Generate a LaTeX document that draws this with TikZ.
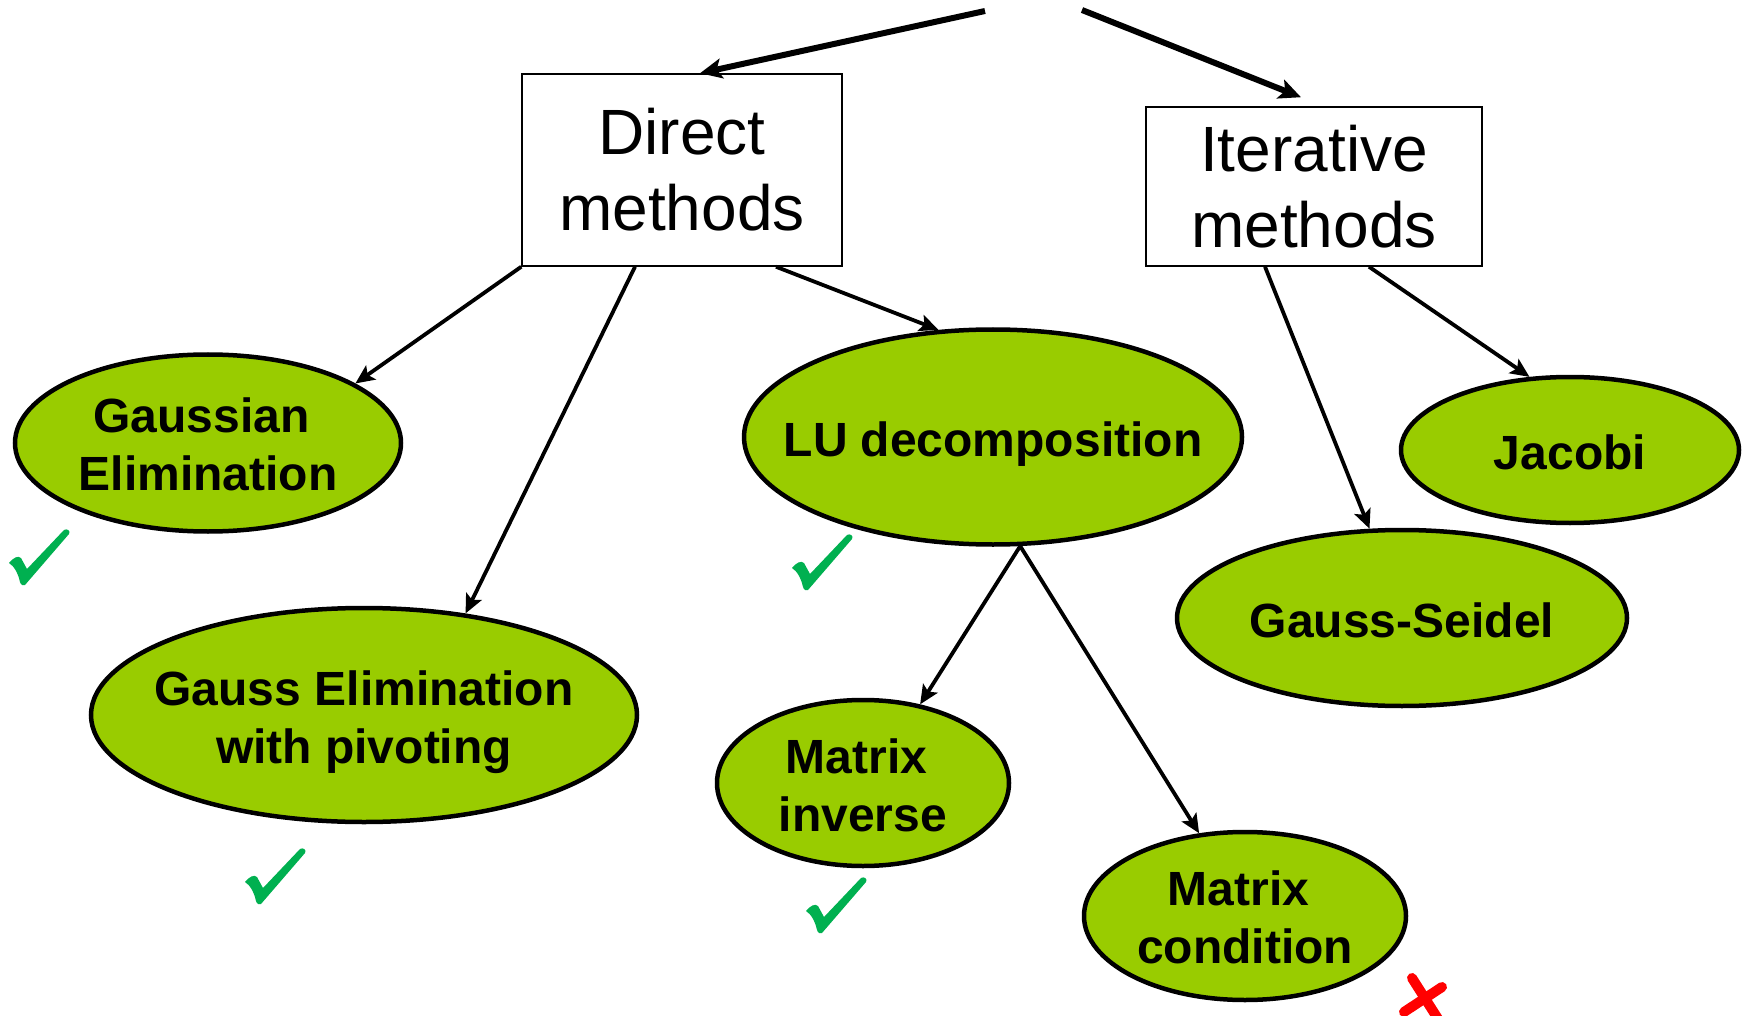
\documentclass[tikz,border=0pt]{standalone}
\usepackage{fontspec}
\setmainfont{Liberation Sans}
\usetikzlibrary{shapes.geometric,arrows.meta}

\definecolor{leaf}{HTML}{99CC00}
\definecolor{okgreen}{HTML}{00B050}
\definecolor{nored}{HTML}{FF0000}

\tikzset{
  methodbox/.style={draw, line width=1.5pt, fill=white, inner sep=0pt,
    align=center, font=\fontsize{64}{76}\selectfont},
  leafnode/.style={ellipse, draw, line width=4.5pt, fill=leaf, inner sep=0pt},
  leaftext/.style={align=center, inner sep=0pt,
    font=\bfseries\fontsize{48}{58}\selectfont},
  link/.style={line width=3.8pt, -{Stealth[length=19pt,width=17pt,inset=4pt]}},
  toplink/.style={line width=6pt, -{Stealth[length=22pt,width=20pt,inset=5pt]}},
  tick/.pic={
    \fill[okgreen] (0,34) .. controls (4,29) and (9,26) .. (12,29)
      -- (18,40) -- (55,1) .. controls (58,-1) and (62,2) .. (60,5)
      -- (16,56) .. controls (14,57) and (12,56) .. (11,53)
      .. controls (9,44) and (5,37) .. cycle;
  }
}
% a first line that ends in a blank sits a little to the left
\newcommand{\trail}[1]{#1\hspace*{13pt}}

\begin{document}
\begin{tikzpicture}[x=1pt,y=-1pt]
  \useasboundingbox (0,0) rectangle (1746,1016);

  % category boxes
  \node[methodbox, minimum width=320pt, minimum height=192pt] (direct) at (682,170)
    {Direct\\methods};
  \node[methodbox, minimum width=336pt, minimum height=159pt] (iter) at (1314,186.5)
    {Iterative\\methods};

  % methods: the ellipse size is fixed, the text sits on top of it
  \node[leafnode, minimum width=386pt, minimum height=177pt,
        label={[leaftext,yshift=-1pt]center:\trail{Gaussian}\\Elimination}] (gauss) at (208,443) {};
  \node[leafnode, minimum width=546pt, minimum height=214pt,
        label={[leaftext,yshift=-7pt]center:Gauss Elimination\\with pivoting}] (pivot) at (364,715) {};
  \node[leafnode, minimum width=498pt, minimum height=215pt,
        label={[leaftext,yshift=-7pt]center:LU decomposition}] (lu) at (993,437) {};
  \node[leafnode, minimum width=292pt, minimum height=166pt,
        label={[leaftext,yshift=-2pt]center:\trail{Matrix}\\inverse}] (inv) at (863,783) {};
  \node[leafnode, minimum width=322pt, minimum height=168pt,
        label={[leaftext,yshift=-1pt]center:\trail{Matrix}\\condition}] (cond) at (1245,916) {};
  \node[leafnode, minimum width=338pt, minimum height=146pt,
        label={[leaftext,yshift=-2pt]center:Jacobi}] (jacobi) at (1570,450) {};
  \node[leafnode, minimum width=450pt, minimum height=176pt,
        label={[leaftext,yshift=-2pt]center:Gauss-Seidel}] (seidel) at (1402,618) {};

  % free ends of the two top arrows
  \coordinate (rootL) at (985,11);
  \coordinate (rootR) at (1082,10);

  \draw[toplink] (rootL) -- ([xshift=18pt]direct.north);
  \draw[toplink] (rootR) -- ([xshift=-13pt,yshift=9pt]iter.north);

  \draw[link] (direct.south west) -- (gauss.22);
  \draw[link] ([xshift=-47pt]direct.south) -- (pivot.45);
  \draw[link] ([xshift=94pt]direct.south) -- (lu.117);
  \draw[link] (lu.284) -- (inv.54);
  \draw[link] (lu.284) -- (cond.119);
  \draw[link] ([xshift=-49pt]iter.south) -- (seidel.110);
  \draw[link] ([xshift=55pt]iter.south) -- (jacobi.119);

  % marks
  \pic at (9,529) {tick};
  \pic at (245,848) {tick};
  \pic at (792,534) {tick};
  \pic at (806,877) {tick};

  \draw[nored, line width=10pt, line cap=round] (1412,978) -- (1440,1022);
  \draw[nored, line width=10pt, line cap=round] (1442,987) -- (1404,1012);
\end{tikzpicture}
\end{document}
